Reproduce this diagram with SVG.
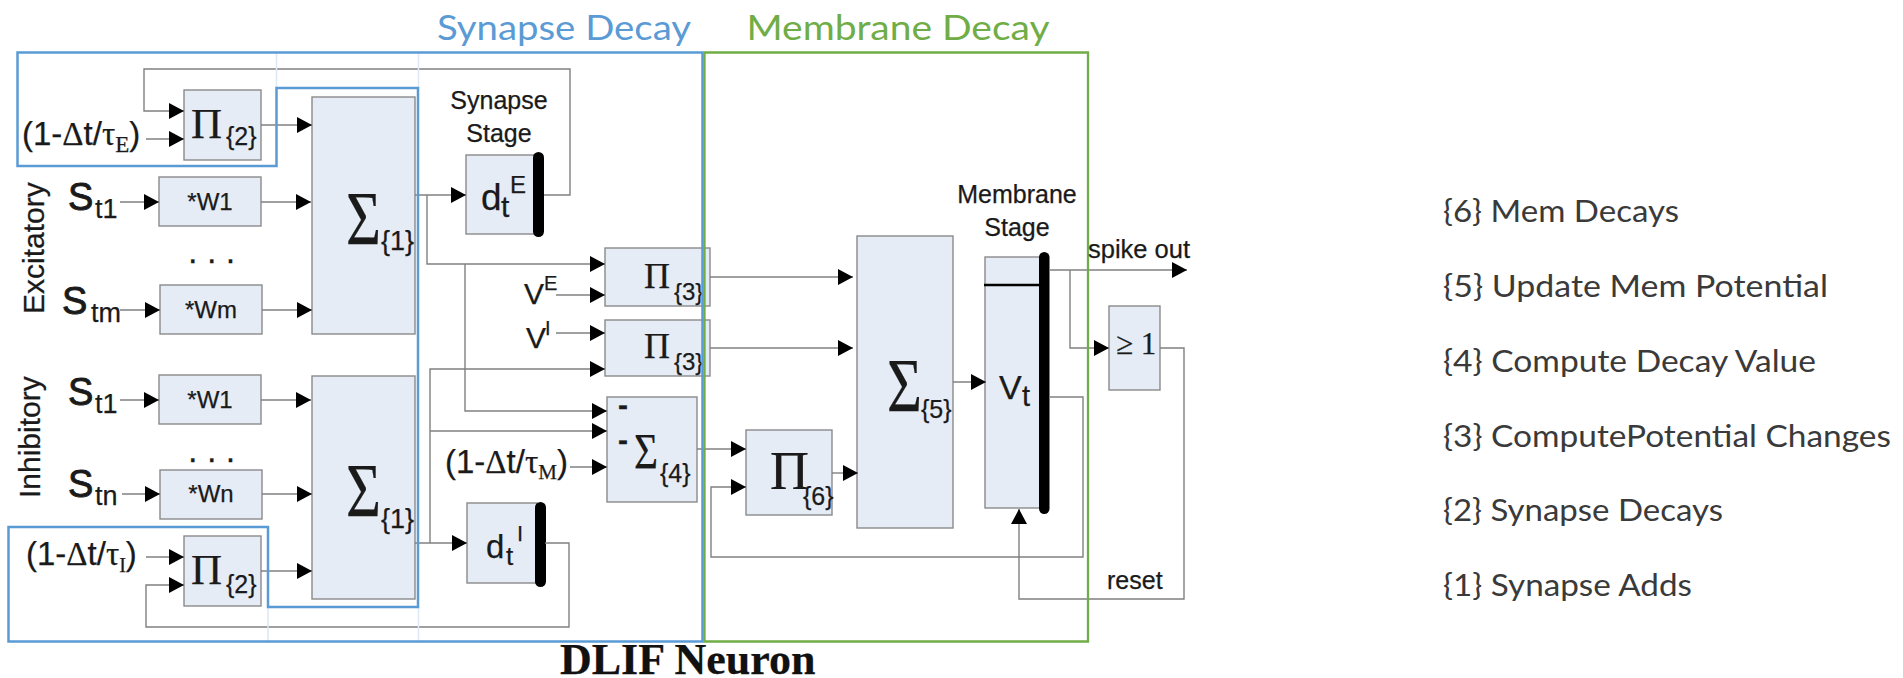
<svg xmlns="http://www.w3.org/2000/svg" width="1903" height="678" viewBox="0 0 1903 678">
<style>
text{font-family:"Liberation Sans",Arial,sans-serif;fill:#1a1a1a;stroke:#1a1a1a;stroke-width:.25}
.s{font-family:"Liberation Serif","Times New Roman",serif}
.b{fill:#e6ecf6;stroke:#8a8a8a;stroke-width:1.4}
.c{fill:none;stroke:#808080;stroke-width:1.4}
.a{marker-end:url(#ah)}
.bar{fill:#000}
.l{font-family:Lato,"Open Sans",sans-serif;font-size:30px;fill:#3a3a3a;stroke:none}
.h{font-family:Lato,"Open Sans",sans-serif;font-size:35px;stroke:none}
.m{text-anchor:middle}
.big{stroke-width:.9}
</style>
<defs>
<marker id="ah" markerUnits="userSpaceOnUse" markerWidth="16" markerHeight="18" refX="15" refY="8" orient="auto">
<path d="M0,0L15,8L0,16Z" fill="#000"/>
</marker>
</defs>
<rect width="1903" height="678" fill="#fff"/>

<g id="nodes">
<g id="prod2-e"><rect class="b" x="184" y="90" width="77" height="70"/><text class="s" x="191" y="138" font-size="43">Π</text><text x="226" y="145" font-size="25">{2}</text></g>
<g id="w1-e"><rect class="b" x="159" y="177" width="102" height="49"/><text class="m" x="210" y="210" font-size="24">*W1</text></g>
<g id="wm-e"><rect class="b" x="160" y="285" width="102" height="49"/><text class="m" x="211" y="318" font-size="24">*Wm</text></g>
<g id="sum1-e"><rect class="b" x="312" y="97" width="103" height="237"/><text class="s" x="346" y="244" font-size="76" textLength="35" lengthAdjust="spacingAndGlyphs">Σ</text><text x="381" y="250" font-size="27">{1}</text></g>
<g id="w1-i"><rect class="b" x="159" y="375" width="102" height="49"/><text class="m" x="210" y="408" font-size="24">*W1</text></g>
<g id="wn-i"><rect class="b" x="160" y="470" width="102" height="49"/><text class="m" x="211" y="502" font-size="24">*Wn</text></g>
<g id="prod2-i"><rect class="b" x="184" y="536" width="77" height="70"/><text class="s" x="191" y="584" font-size="43">Π</text><text x="226" y="593" font-size="25">{2}</text></g>
<g id="sum1-i"><rect class="b" x="312" y="376" width="103" height="223"/><text class="s" x="346" y="516" font-size="76" textLength="35" lengthAdjust="spacingAndGlyphs">Σ</text><text x="381" y="528" font-size="27">{1}</text></g>
<g id="dte"><rect class="b" x="466" y="155" width="69" height="79"/><rect class="bar" x="533" y="152" width="11" height="85" rx="5.5"/><text x="481" y="210" font-size="37">d</text><text x="501" y="217" font-size="30">t</text><text x="510" y="193" font-size="24">E</text></g>
<g id="dti"><rect class="b" x="467" y="503" width="70" height="80"/><rect class="bar" x="535" y="502" width="11" height="85" rx="5.5"/><text x="486" y="558" font-size="33">d</text><text x="506" y="565" font-size="26">t</text><text x="517" y="541" font-size="22">I</text></g>
<g id="prod3-a"><rect class="b" x="605" y="248" width="105" height="58"/><text class="s" x="644" y="288" font-size="36">Π</text><text x="674" y="300" font-size="24">{3}</text></g>
<g id="prod3-b"><rect class="b" x="605" y="320" width="105" height="56"/><text class="s" x="644" y="358" font-size="36">Π</text><text x="674" y="370" font-size="24">{3}</text></g>
<g id="sum4"><rect class="b" x="607" y="397" width="90" height="105"/><text x="618" y="415" font-size="30" font-weight="bold">-</text><text x="618" y="450" font-size="30" font-weight="bold">-</text><text class="s" x="634" y="468" font-size="50" textLength="24" lengthAdjust="spacingAndGlyphs">Σ</text><text x="660" y="482" font-size="25">{4}</text></g>
<g id="prod6"><rect class="b" x="746" y="430" width="86" height="85"/><text class="s" x="770" y="489" font-size="54">Π</text><text x="803" y="505" font-size="25">{6}</text></g>
<g id="sum5"><rect class="b" x="857" y="236" width="96" height="292"/><text class="s" x="887" y="411" font-size="76" textLength="35" lengthAdjust="spacingAndGlyphs">Σ</text><text x="921" y="418" font-size="25">{5}</text></g>
<g id="vt"><rect class="b" x="985" y="257" width="56" height="251"/><path d="M984,285H1041" fill="none" stroke="#000" stroke-width="2.400"/><rect class="bar" x="1039" y="252" width="10.500" height="262" rx="5.200"/><text x="999" y="399" font-size="34">V</text><text x="1022" y="406" font-size="29">t</text></g>
<g id="thresh"><rect class="b" x="1109" y="306" width="51" height="84"/><text class="s" x="1116" y="354" font-size="31">≥ 1</text></g>
</g>

<g id="connectors">
<path class="c a" d="M544,195H570V69H144V111H184"/>
<path class="c a" d="M146,139H184"/>
<path class="c a" d="M261,125H312"/>
<path class="c a" d="M120,202H159"/>
<path class="c a" d="M261,202H311"/>
<path class="c a" d="M120,310H160"/>
<path class="c a" d="M262,310H312"/>
<path class="c a" d="M120,400H159"/>
<path class="c a" d="M261,400H311"/>
<path class="c a" d="M122,494H160"/>
<path class="c a" d="M262,494H312"/>
<path class="c a" d="M146,557H184"/>
<path class="c a" d="M545,543H569V627H146V585H184"/>
<path class="c a" d="M261,571H312"/>
<path class="c a" d="M415,195H466"/>
<path class="c a" d="M427,195V264H605"/>
<path class="c a" d="M465,264V411H607"/>
<path class="c a" d="M415,543H467"/>
<path class="c a" d="M430,543V369H605"/>
<path class="c a" d="M430,431H607"/>
<path class="c a" d="M556,295H605"/>
<path class="c a" d="M556,333H605"/>
<path class="c a" d="M570,467H607"/>
<path class="c a" d="M710,277H853"/>
<path class="c a" d="M710,348H853"/>
<path class="c a" d="M697,449H746"/>
<path class="c a" d="M832,473H858"/>
<path class="c a" d="M1049,397H1083V557H711V487H746"/>
<path class="c a" d="M953,382H986"/>
<path class="c a" d="M1049,270H1187"/>
<path class="c a" d="M1070,270V348H1109"/>
<path class="c a" d="M1160,348H1184V599H1019V509"/>
</g>

<g id="regions">
<path d="M276.500,52V88M418.500,52V88M268,607V642M418.500,607V642" fill="none" stroke="#dce8f5" stroke-width="1.500"/>
<path d="M17.500,52.500H702.500V641.500H8.500V527H268V607H418V88H276.500V166H17.500Z" fill="none" stroke="#5b9bd5" stroke-width="2.500"/>
<path d="M704.500,52.500H1088V641.500H704.500Z" fill="none" stroke="#70ad47" stroke-width="2.300"/>
</g>

<g id="labels">
<text class="h m" x="564" y="40" style="fill:#5b9bd5" textLength="254" lengthAdjust="spacingAndGlyphs">Synapse Decay</text>
<text class="h m" x="898" y="40" style="fill:#70ad47" textLength="303" lengthAdjust="spacingAndGlyphs">Membrane Decay</text>
<text x="22" y="145" font-size="33">(1-<tspan class="s">Δ</tspan>t/<tspan class="s">τ</tspan><tspan class="s" font-size="23" dy="7">E</tspan><tspan dy="-7">)</tspan></text>
<text x="26" y="565" font-size="33">(1-<tspan class="s">Δ</tspan>t/<tspan class="s">τ</tspan><tspan class="s" font-size="20" dy="7">I</tspan><tspan dy="-7">)</tspan></text>
<text x="445" y="473" font-size="33">(1-<tspan class="s">Δ</tspan>t/<tspan class="s">τ</tspan><tspan class="s" font-size="21" dy="6">M</tspan><tspan dy="-6">)</tspan></text>
<text class="big" x="68" y="210" font-size="38">S</text><text x="95" y="218" font-size="27">t1</text>
<text class="big" x="62" y="314" font-size="38">S</text><text x="91" y="322" font-size="27">tm</text>
<text class="big" x="68" y="405" font-size="38">S</text><text x="95" y="413" font-size="27">t1</text>
<text class="big" x="68" y="497" font-size="38">S</text><text x="95" y="505" font-size="27">tn</text>
<text x="188" y="263" font-size="34">. . .</text>
<text x="188" y="462" font-size="34">. . .</text>
<text transform="rotate(-90 44 314)" x="44" y="314" font-size="30">Excitatory</text>
<text transform="rotate(-90 39.500 498)" x="39.500" y="498" font-size="30">Inhibitory</text>
<text class="m" x="499" y="109" font-size="25">Synapse</text>
<text class="m" x="499" y="142" font-size="25">Stage</text>
<text x="524" y="304" font-size="30">V</text><text x="544" y="290" font-size="20">E</text>
<text x="526" y="348" font-size="30">V</text><text x="545" y="335" font-size="20">I</text>
<text class="m" x="1017" y="203" font-size="25">Membrane</text>
<text class="m" x="1017" y="236" font-size="25">Stage</text>
<text x="1088" y="258" font-size="25.500">spike out</text>
<text x="1107" y="589" font-size="25">reset</text>
<text class="s" x="560" y="674" font-size="44" font-weight="bold" style="fill:#111">DLIF Neuron</text>
</g>

<g id="legend">
<text class="l" x="1443" y="222" textLength="236" lengthAdjust="spacingAndGlyphs">{6} Mem Decays</text>
<text class="l" x="1443" y="297" textLength="385" lengthAdjust="spacingAndGlyphs">{5} Update Mem Potential</text>
<text class="l" x="1443" y="372" textLength="373" lengthAdjust="spacingAndGlyphs">{4} Compute Decay Value</text>
<text class="l" x="1443" y="447" textLength="448" lengthAdjust="spacingAndGlyphs">{3} ComputePotential Changes</text>
<text class="l" x="1443" y="521" textLength="280" lengthAdjust="spacingAndGlyphs">{2} Synapse Decays</text>
<text class="l" x="1443" y="596" textLength="249" lengthAdjust="spacingAndGlyphs">{1} Synapse Adds</text>
</g>
</svg>
